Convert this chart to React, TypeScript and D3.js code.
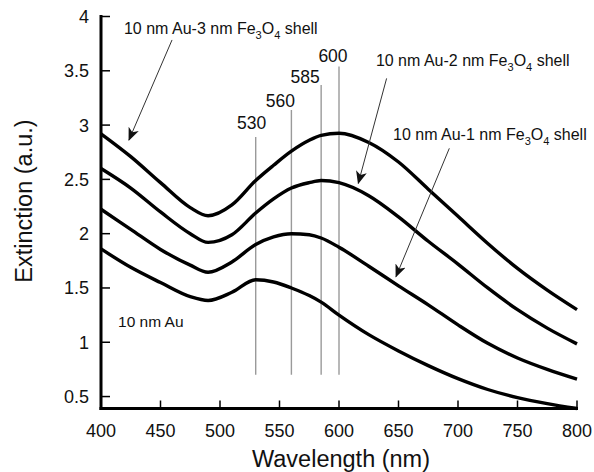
import React from "react";
import * as d3 from "d3";

// Wavelength grid (nm) shared by all spectra
const wavelengths = [400, 425, 450, 475, 490, 510, 530, 545, 560, 575, 585, 600, 625, 650, 675, 700, 725, 750, 775, 800];

// Extinction spectra (a.u.)
const shell3nm = [2.92, 2.71, 2.47, 2.24, 2.165, 2.265, 2.49, 2.63, 2.76, 2.86, 2.905, 2.925, 2.84, 2.66, 2.41, 2.16, 1.91, 1.68, 1.48, 1.3];
const shell2nm = [2.6, 2.42, 2.2, 2.0, 1.92, 1.99, 2.19, 2.32, 2.42, 2.47, 2.49, 2.47, 2.35, 2.155, 1.93, 1.72, 1.5, 1.3, 1.13, 0.985];
const shell1nm = [2.225, 2.04, 1.855, 1.71, 1.645, 1.74, 1.9, 1.97, 2.0, 1.99, 1.96, 1.875, 1.7, 1.52, 1.345, 1.16, 0.99, 0.855, 0.75, 0.66];
const bareAu = [1.86, 1.69, 1.55, 1.42, 1.385, 1.46, 1.575, 1.555, 1.5, 1.43, 1.37, 1.25, 1.07, 0.92, 0.785, 0.665, 0.565, 0.49, 0.435, 0.39];

// Plasmon peak positions (nm) and marker line extents (a.u.)
const peakWavelengths = [530, 560, 585, 600];
const peakLineTop = [2.89, 3.14, 3.37, 3.54];
const peakLineBottom = 0.7;

// Axis ticks
const xTicks = [400, 450, 500, 550, 600, 650, 700, 750, 800];
const yTicks = [0.5, 1, 1.5, 2, 2.5, 3, 3.5, 4];
const yTickLabels = ["0.5", "1", "1.5", "2", "2.5", "3", "3.5", "4"];

const W = 594;
const H = 472;
const left = 101;
const right = 577;
const top = 16.5;
const bottom = 408.5;

const x = d3.scaleLinear().domain([400, 800]).range([left, right]);
const y = d3.scaleLinear().domain([0.39, 4]).range([bottom, top]);

const FONT = "'Liberation Sans', Arial, Helvetica, sans-serif";

const series = [shell3nm, shell2nm, shell1nm, bareAu];

// label placement around each peak line (px)
const peakLabelDx = [-4, -11, -16, -6];
const peakLabelDy = [-8, -3, -2, -4];

// Annotation arrows: [fromNm, fromVal, toNm, toVal]
const arrows = [
  [459.7, 3.784, 423.5, 2.863],
  [640.0, 3.43, 616.2, 2.464],
  [692.7, 2.786, 647.9, 1.604],
];

// Annotation label anchors (start of text) in data units
const shellLabels = [
  { shell: "3", nm: 419.3, v: 3.84 },
  { shell: "2", nm: 631.0, v: 3.544 },
  { shell: "1", nm: 645.4, v: 2.863 },
];

export default function App() {
  const line = d3
    .line<number>()
    .x((_, i) => x(wavelengths[i]))
    .y((d) => y(d))
    .curve(d3.curveMonotoneX);

  return (
    <svg
      width={W}
      height={H}
      style={{ position: "absolute", left: 0, top: 0, background: "#fff" }}
      fontFamily={FONT}
    >
      <defs>
        <marker
          id="head"
          viewBox="0 0 13 11"
          refX="12"
          refY="5.5"
          markerWidth="13"
          markerHeight="11"
          markerUnits="userSpaceOnUse"
          orient="auto"
        >
          <path d="M0,0 L13,5.5 L0,11 L3.5,5.5 Z" fill="#111" />
        </marker>
      </defs>

      {/* peak marker lines */}
      {peakWavelengths.map((p, i) => (
        <g key={p}>
          <line
            x1={x(p)}
            x2={x(p)}
            y1={y(peakLineBottom)}
            y2={y(peakLineTop[i])}
            stroke="#9a9a9a"
            strokeWidth={1.4}
          />
          <text
            x={x(p) + peakLabelDx[i]}
            y={y(peakLineTop[i]) + peakLabelDy[i]}
            textAnchor="middle"
            fontSize={17.5}
            fill="#111"
          >
            {p}
          </text>
        </g>
      ))}

      {/* spectra */}
      {series.map((s, i) => (
        <path key={i} d={line(s) || ""} fill="none" stroke="#000" strokeWidth={3.4} strokeLinejoin="round" />
      ))}

      {/* axes */}
      <line x1={left} x2={left} y1={top - 1.5} y2={bottom + 1.5} stroke="#000" strokeWidth={3} />
      <line x1={left - 1.5} x2={right + 1} y1={bottom} y2={bottom} stroke="#000" strokeWidth={3} />
      {yTicks.map((t, i) => (
        <g key={t}>
          <line x1={left} x2={left + 9} y1={y(t)} y2={y(t)} stroke="#000" strokeWidth={1.5} />
          <text x={89} y={y(t)} dy="0.36em" textAnchor="end" fontSize={18} fill="#111">
            {yTickLabels[i]}
          </text>
        </g>
      ))}
      {xTicks.map((t) => (
        <g key={t}>
          <line x1={x(t)} x2={x(t)} y1={bottom} y2={bottom - 8} stroke="#000" strokeWidth={1.5} />
          <text x={x(t)} y={436.5} textAnchor="middle" fontSize={18} fill="#111">
            {t}
          </text>
        </g>
      ))}

      <text x={341} y={466.5} textAnchor="middle" fontSize={23.5} fill="#111">
        Wavelength (nm)
      </text>
      <text
        transform={`translate(32,201) rotate(-90)`}
        textAnchor="middle"
        fontSize={23.5}
        fill="#111"
      >
        Extinction (a.u.)
      </text>

      {/* annotations */}
      {arrows.map((a, i) => (
        <line
          key={i}
          x1={x(a[0])}
          y1={y(a[1])}
          x2={x(a[2])}
          y2={y(a[3])}
          stroke="#333"
          strokeWidth={1}
          markerEnd="url(#head)"
        />
      ))}
      {shellLabels.map((l) => (
        <text key={l.shell} x={x(l.nm)} y={y(l.v)} fontSize={16} fill="#111">
          {`10 nm Au-${l.shell} nm Fe`}
          <tspan dy={5} fontSize={11}>3</tspan>
          <tspan dy={-5}>O</tspan>
          <tspan dy={5} fontSize={11}>4</tspan>
          <tspan dy={-5}> shell</tspan>
        </text>
      ))}
      <text x={x(414.3)} y={y(1.144)} fontSize={15.5} fill="#111">
        10 nm Au
      </text>
    </svg>
  );
}
